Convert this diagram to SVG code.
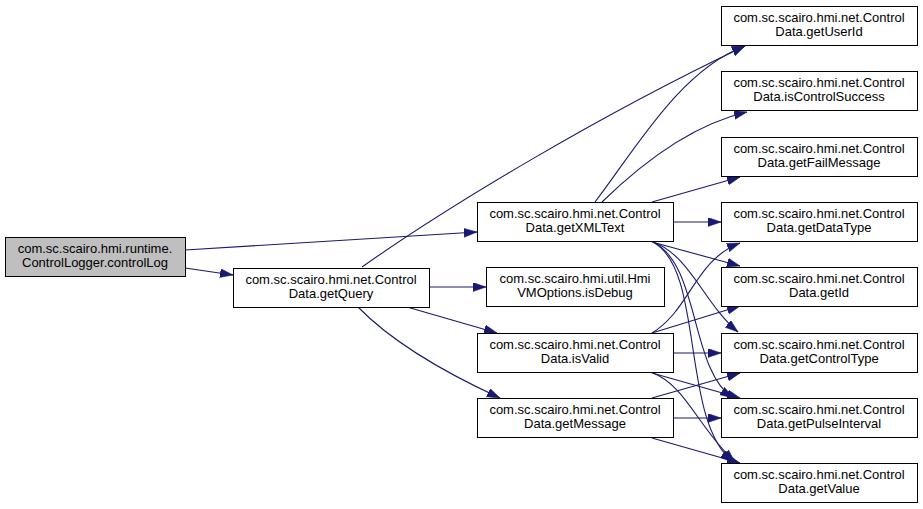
<svg xmlns="http://www.w3.org/2000/svg" width="923" height="509" viewBox="0 0 923 509">
<style>
.n rect{fill:#fff;stroke:#000;stroke-width:1}
.n.root rect{fill:#bfbfbf}
.n text{font-family:"Liberation Sans",Arial,sans-serif;font-size:13px;fill:#000;text-anchor:middle}
.e path{fill:none;stroke:#191970;stroke-width:1.1}
</style>
<defs>
<marker id="ah" markerUnits="userSpaceOnUse" markerWidth="14" markerHeight="10" refX="13" refY="4.5" orient="auto">
<path d="M0,0 L13,4.5 L0,9 z" fill="#191970" stroke="#191970" stroke-width="0.5"/>
</marker>
</defs>
<rect width="923" height="509" fill="#fff"/>
<g class="e">
<path d="M185,250 L477,232" marker-end="url(#ah)"/>
<path d="M185,268 L233,275" marker-end="url(#ah)"/>
<path d="M362,267 C450,205 600,115 745,46" marker-end="url(#ah)"/>
<path d="M429,287 L486,287" marker-end="url(#ah)"/>
<path d="M407,307 L497,333" marker-end="url(#ah)"/>
<path d="M358,307 C395,345 450,375 500,398" marker-end="url(#ah)"/>
<path d="M595,202 C635,150 680,70 745,46" marker-end="url(#ah)"/>
<path d="M602,202 C640,165 690,125 747,112" marker-end="url(#ah)"/>
<path d="M652,202 L740,177" marker-end="url(#ah)"/>
<path d="M673,222 L721,222" marker-end="url(#ah)"/>
<path d="M652,242 L740,266" marker-end="url(#ah)"/>
<path d="M653,242 C690,255 705,305 738,332" marker-end="url(#ah)"/>
<path d="M653,242 C700,265 690,370 733,398" marker-end="url(#ah)"/>
<path d="M653,242 C705,270 680,420 733,462" marker-end="url(#ah)"/>
<path d="M652,333 C690,310 695,260 740,243" marker-end="url(#ah)"/>
<path d="M652,333 L740,306" marker-end="url(#ah)"/>
<path d="M673,353 L721,353" marker-end="url(#ah)"/>
<path d="M652,373 L740,398" marker-end="url(#ah)"/>
<path d="M653,373 C685,385 700,430 735,462" marker-end="url(#ah)"/>
<path d="M652,398 L740,373" marker-end="url(#ah)"/>
<path d="M673,418 L721,418" marker-end="url(#ah)"/>
<path d="M652,438 L740,463" marker-end="url(#ah)"/>
</g>
<g id="controlLog" class="n root"><rect x="5.5" y="237.5" width="180" height="39"/><text x="95" y="253">com.sc.scairo.hmi.runtime.</text><text x="95" y="267">ControlLogger.controlLog</text></g>
<g id="getQuery" class="n"><rect x="233.5" y="268.5" width="196" height="39"/><text x="331" y="284">com.sc.scairo.hmi.net.Control</text><text x="331" y="298">Data.getQuery</text></g>
<g id="getXMLText" class="n"><rect x="477.5" y="202.5" width="196" height="39"/><text x="575" y="218">com.sc.scairo.hmi.net.Control</text><text x="575" y="232">Data.getXMLText</text></g>
<g id="isDebug" class="n"><rect x="486.5" y="267.5" width="178" height="39"/><text x="575" y="283">com.sc.scairo.hmi.util.Hmi</text><text x="575" y="297">VMOptions.isDebug</text></g>
<g id="isValid" class="n"><rect x="477.5" y="333.5" width="196" height="39"/><text x="575" y="349">com.sc.scairo.hmi.net.Control</text><text x="575" y="363">Data.isValid</text></g>
<g id="getMessage" class="n"><rect x="477.5" y="398.5" width="196" height="39"/><text x="575" y="414">com.sc.scairo.hmi.net.Control</text><text x="575" y="428">Data.getMessage</text></g>
<g id="getUserId" class="n"><rect x="721.5" y="6.5" width="196" height="39"/><text x="819" y="22">com.sc.scairo.hmi.net.Control</text><text x="819" y="36">Data.getUserId</text></g>
<g id="isControlSuccess" class="n"><rect x="721.5" y="71.5" width="196" height="39"/><text x="819" y="87">com.sc.scairo.hmi.net.Control</text><text x="819" y="101">Data.isControlSuccess</text></g>
<g id="getFailMessage" class="n"><rect x="721.5" y="137.5" width="196" height="39"/><text x="819" y="153">com.sc.scairo.hmi.net.Control</text><text x="819" y="167">Data.getFailMessage</text></g>
<g id="getDataType" class="n"><rect x="721.5" y="202.5" width="196" height="39"/><text x="819" y="218">com.sc.scairo.hmi.net.Control</text><text x="819" y="232">Data.getDataType</text></g>
<g id="getId" class="n"><rect x="721.5" y="267.5" width="196" height="39"/><text x="819" y="283">com.sc.scairo.hmi.net.Control</text><text x="819" y="297">Data.getId</text></g>
<g id="getControlType" class="n"><rect x="721.5" y="333.5" width="196" height="39"/><text x="819" y="349">com.sc.scairo.hmi.net.Control</text><text x="819" y="363">Data.getControlType</text></g>
<g id="getPulseInterval" class="n"><rect x="721.5" y="398.5" width="196" height="39"/><text x="819" y="414">com.sc.scairo.hmi.net.Control</text><text x="819" y="428">Data.getPulseInterval</text></g>
<g id="getValue" class="n"><rect x="721.5" y="463.5" width="196" height="39"/><text x="819" y="479">com.sc.scairo.hmi.net.Control</text><text x="819" y="493">Data.getValue</text></g>
</svg>
